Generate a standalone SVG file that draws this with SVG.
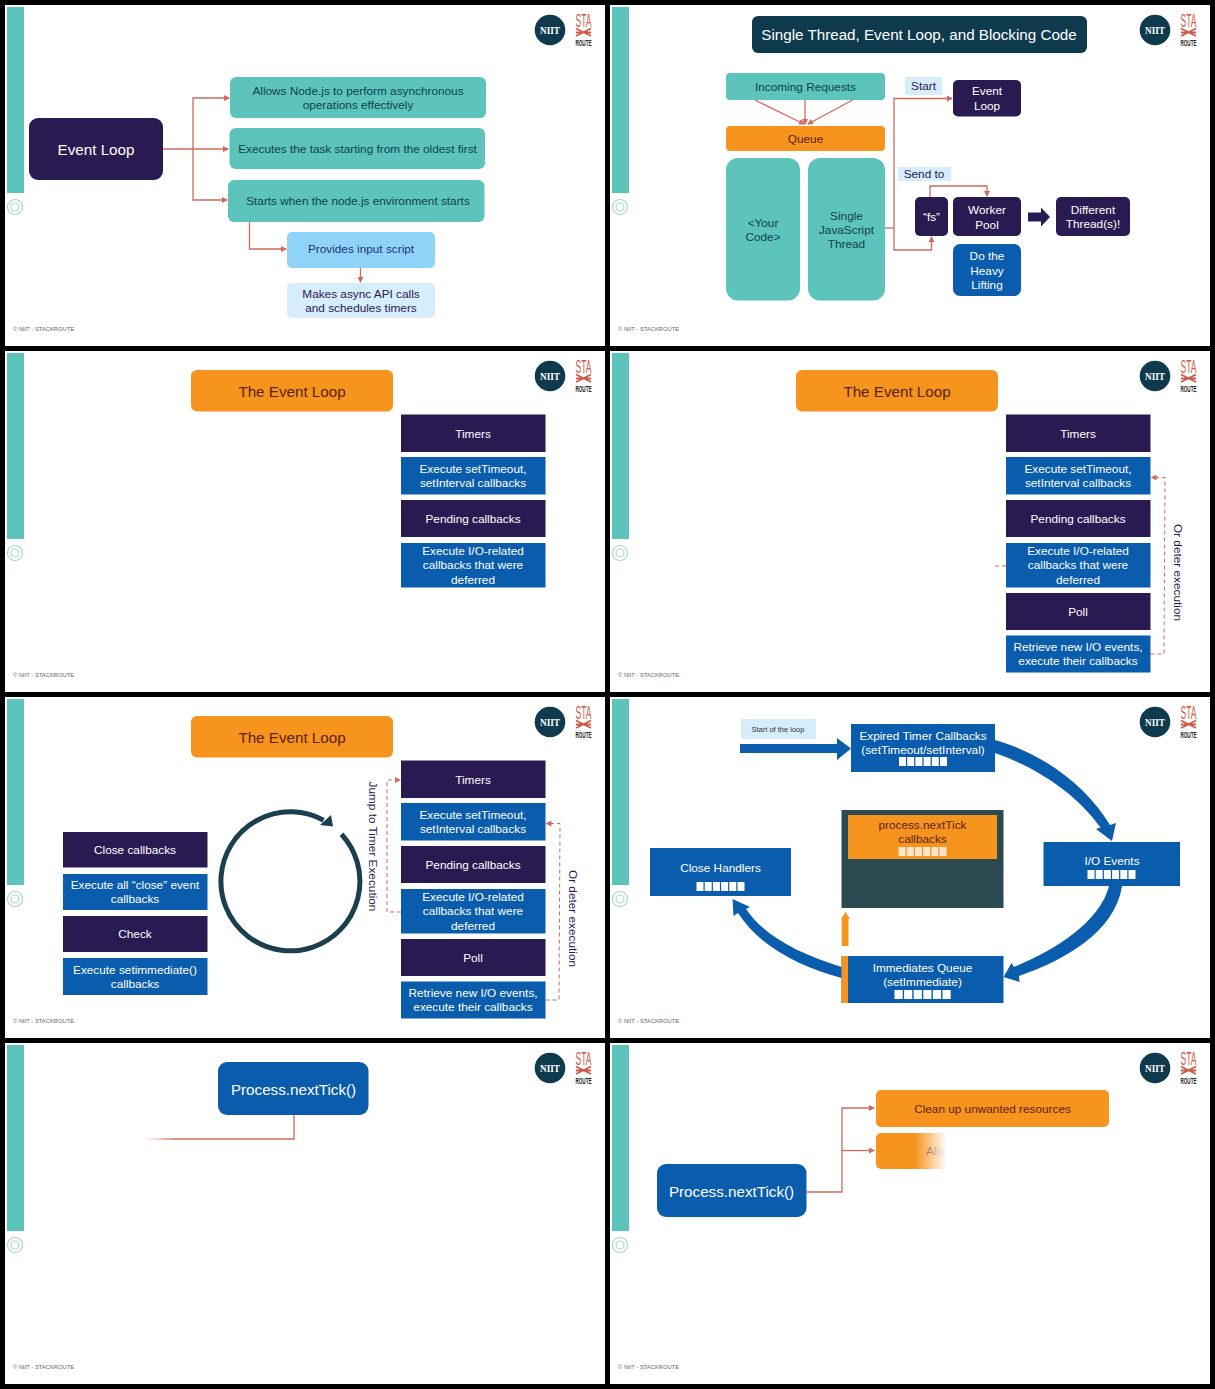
<svg xmlns="http://www.w3.org/2000/svg" width="1215" height="1389" viewBox="0 0 1215 1389">
<style>
text{font-family:"Liberation Sans",Arial,sans-serif;text-anchor:middle;font-size:11.8px}
.w{fill:#fff}.d{fill:#0f3f4c}.n{fill:#2a1a52}.b{fill:#1d3278}.o{fill:#5a2208}
.t16{font-size:15.2px}
.teal{fill:#5cc4bb}.pur{fill:#2a1a52}.blu{fill:#0a5cad}.org{fill:#f7941d}.lb{fill:#d6edfb}.sky{fill:#8fd4f8}.navy{fill:#0f3a4d}
.c{fill:none;stroke:#cf6a5c;stroke-width:1.3}
.a{marker-end:url(#ah)}
.ds{stroke-dasharray:4 3;stroke-width:1}
.foot{font-size:5.8px;text-anchor:start;fill:#666}
.ba{fill:#0a5cad}
</style>
<defs>
<marker id="ah" viewBox="0 0 6 6" refX="5" refY="3" markerWidth="6" markerHeight="6" markerUnits="userSpaceOnUse" orient="auto"><path d="M0 0L6 3L0 6Z" fill="#cf6a5c"/></marker>
<linearGradient id="fadeL" gradientUnits="userSpaceOnUse" x1="145" y1="0" x2="175" y2="0"><stop offset="0" stop-color="#cf6a5c" stop-opacity="0"/><stop offset="1" stop-color="#cf6a5c"/></linearGradient>
<linearGradient id="fadeW" x1="0" y1="0" x2="1" y2="0"><stop offset="0" stop-color="#fff" stop-opacity="0"/><stop offset="1" stop-color="#fff"/></linearGradient>
<g id="q"><rect width="7" height="9"/><rect x="8.2" width="7" height="9"/><rect x="16.4" width="7" height="9"/><rect x="24.6" width="7" height="9"/><rect x="32.8" width="7" height="9"/><rect x="41" width="7" height="9"/></g>
<g id="chrome">
<rect x="5" y="5" width="600" height="341" fill="#fff"/>
<rect x="7" y="7" width="17" height="186" class="teal"/>
<circle cx="15" cy="207" r="7.5" fill="none" stroke="#a9d6d3" stroke-width="1.2"/><circle cx="15" cy="207" r="4" fill="none" stroke="#a9d6d3" stroke-width="1.2"/>
<circle cx="550" cy="30" r="15.3" class="navy"/>
<text x="550" y="33.500" style="font-family:'Liberation Serif',serif;font-weight:bold;font-size:9.5px" class="w" textLength="20" lengthAdjust="spacingAndGlyphs">NIIT</text>
<text x="583.500" y="27" style="font-size:18px" fill="#cf5a4a" textLength="16" lengthAdjust="spacingAndGlyphs">STA</text>
<path d="M576 28.500L591 36M591 28.500L576 36M576 32.500H591" stroke="#cf5a4a" stroke-width="1.800" fill="none"/>
<text x="583.500" y="46" style="font-size:8.500px;font-weight:bold" fill="#222" textLength="16" lengthAdjust="spacingAndGlyphs">ROUTE</text>
<text x="13" y="331" class="foot">© NIIT - STACKROUTE</text>
</g>
</defs>
<rect width="1215" height="1389" fill="#000"/>

<g id="slide1">
<use href="#chrome"/>
<g id="s1-event-loop"><rect x="29" y="118" width="134" height="62" rx="9" class="pur"/><text x="96" y="154.500" class="w t16">Event Loop</text></g>
<g id="s1-async"><rect x="230" y="77" width="256" height="41" rx="6" class="teal"/><text x="358" class="d"><tspan x="358" y="94.500">Allows Node.js to perform asynchronous</tspan><tspan x="358" y="108.500">operations effectively</tspan></text></g>
<g id="s1-oldest"><rect x="229.500" y="128" width="255.500" height="41" rx="6" class="teal"/><text x="357.500" y="153" class="d">Executes the task starting from the oldest first</text></g>
<g id="s1-starts"><rect x="228" y="180" width="256.500" height="42" rx="6" class="teal"/><text x="358" y="205" class="d">Starts when the node.js environment starts</text></g>
<g id="s1-input"><rect x="287" y="232" width="148" height="36" rx="5" class="sky"/><text x="361" y="252.500" class="b">Provides input script</text></g>
<g id="s1-async-api"><rect x="287" y="283" width="148" height="35" rx="5" class="lb"/><text class="n"><tspan x="361" y="298">Makes async API calls</tspan><tspan x="361" y="312">and schedules timers</tspan></text></g>
<g id="s1-connectors">
<path class="c a" d="M163 149H228"/><path class="c a" d="M193 149V98H229"/><path class="c a" d="M193 149V200H227"/>
<path class="c a" d="M249.500 222V249H286"/><path class="c a" d="M360.500 268V282"/>
</g>
</g>

<g id="slide2" transform="translate(605,0)">
<use href="#chrome"/>
<g id="s2-title"><rect x="147" y="16" width="335" height="37" rx="6" class="navy"/><text x="314" y="40" class="w t16">Single Thread, Event Loop, and Blocking Code</text></g>
<g id="s2-incoming"><rect x="121" y="73" width="159" height="27" rx="4" class="teal"/><text x="200.500" y="91" class="d">Incoming Requests</text></g>
<g id="s2-queue"><rect x="121" y="126" width="159" height="25" rx="4" class="org"/><text x="200.500" y="142.500" class="o">Queue</text></g>
<g id="s2-code"><rect x="121" y="158" width="74" height="142.500" rx="12" class="teal"/><text class="d"><tspan x="158" y="227">&lt;Your</tspan><tspan x="158" y="241">Code&gt;</tspan></text></g>
<g id="s2-thread"><rect x="203" y="158" width="77" height="142.500" rx="12" class="teal"/><text class="d"><tspan x="241.500" y="220">Single</tspan><tspan x="241.500" y="234">JavaScript</tspan><tspan x="241.500" y="248">Thread</tspan></text></g>
<g id="s2-start"><rect x="300" y="77" width="37" height="18" class="lb"/><text x="318.500" y="90" class="n">Start</text></g>
<g id="s2-loop"><rect x="348" y="80" width="68" height="36.500" rx="5" class="pur"/><text class="w"><tspan x="382" y="95">Event</tspan><tspan x="382" y="109.500">Loop</tspan></text></g>
<g id="s2-send"><rect x="293" y="167" width="53" height="14" class="lb"/><text x="319" y="178" class="n">Send to</text></g>
<g id="s2-fs"><rect x="310" y="197" width="33" height="39" rx="5" class="pur"/><text x="326.500" y="221" class="w">“fs”</text></g>
<g id="s2-worker"><rect x="348" y="197" width="68" height="39" rx="5" class="pur"/><text class="w"><tspan x="382" y="214">Worker</tspan><tspan x="382" y="228.500">Pool</tspan></text></g>
<g id="s2-diff"><rect x="451" y="197" width="74" height="39" rx="5" class="pur"/><text class="w"><tspan x="488" y="214">Different</tspan><tspan x="488" y="228">Thread(s)!</tspan></text></g>
<g id="s2-heavy"><rect x="348" y="244" width="68" height="52" rx="7" class="blu"/><text class="w"><tspan x="382" y="260">Do the</tspan><tspan x="382" y="275">Heavy</tspan><tspan x="382" y="289">Lifting</tspan></text></g>
<g id="s2-connectors">
<path class="c a" d="M150 100L199 124"/><path class="c a" d="M200 100V124"/><path class="c a" d="M247.500 100L203 124"/>
<path class="c" d="M280 228H289"/><path class="c a" d="M289 228V98.500H347"/><path class="c a" d="M289 228V250H326.500V237"/>
<path class="c a" d="M325 197V186H382V196"/>
<path d="M423 212.500H436V207.500L445 217L436 226.500V221.500H423Z" class="pur"/>
</g>
</g>

<g id="slide3" transform="translate(0,346)">
<use href="#chrome"/>
<g id="s3-title"><rect x="191" y="24" width="202" height="41.500" rx="6" class="org"/><text x="292" y="51" class="o t16">The Event Loop</text></g>
<g id="s3-timers"><rect x="401" y="68.500" width="144.500" height="37.500" class="pur"/><text x="473" y="91.500" class="w">Timers</text></g>
<g id="s3-exec1"><rect x="401" y="111" width="144.500" height="37.500" class="blu"/><text class="w"><tspan x="473" y="127">Execute setTimeout,</tspan><tspan x="473" y="141">setInterval callbacks</tspan></text></g>
<g id="s3-pending"><rect x="401" y="154" width="144.500" height="37" class="pur"/><text x="473" y="177" class="w">Pending callbacks</text></g>
<g id="s3-exec2"><rect x="401" y="197" width="144.500" height="44.500" class="blu"/><text class="w"><tspan x="473" y="209">Execute I/O-related</tspan><tspan x="473" y="223">callbacks that were</tspan><tspan x="473" y="237.500">deferred</tspan></text></g>
</g>

<g id="slide4" transform="translate(605,346)">
<use href="#chrome"/>
<g id="s4-title"><rect x="191" y="24" width="202" height="41.500" rx="6" class="org"/><text x="292" y="51" class="o t16">The Event Loop</text></g>
<g id="s4-timers"><rect x="401" y="68.500" width="144.500" height="37.500" class="pur"/><text x="473" y="91.500" class="w">Timers</text></g>
<g id="s4-exec1"><rect x="401" y="111" width="144.500" height="37.500" class="blu"/><text class="w"><tspan x="473" y="127">Execute setTimeout,</tspan><tspan x="473" y="141">setInterval callbacks</tspan></text></g>
<g id="s4-pending"><rect x="401" y="154" width="144.500" height="37" class="pur"/><text x="473" y="177" class="w">Pending callbacks</text></g>
<g id="s4-exec2"><rect x="401" y="197" width="144.500" height="44.500" class="blu"/><text class="w"><tspan x="473" y="209">Execute I/O-related</tspan><tspan x="473" y="223">callbacks that were</tspan><tspan x="473" y="237.500">deferred</tspan></text></g>
<g id="s4-poll"><rect x="401" y="247" width="144.500" height="37" class="pur"/><text x="473" y="269.500" class="w">Poll</text></g>
<g id="s4-exec3"><rect x="401" y="289.500" width="144.500" height="37" class="blu"/><text class="w"><tspan x="473" y="305">Retrieve new I/O events,</tspan><tspan x="473" y="319">execute their callbacks</tspan></text></g>
<text x="569" y="226.500" transform="rotate(90 569 226.500)" class="n">Or deter execution</text>
<g id="s4-connectors">
<path class="c ds" d="M401 220H387"/>
<path class="c ds a" d="M545.500 308H559L560 131.500H546.500"/>
</g>
</g>

<g id="slide5" transform="translate(0,692)">
<use href="#chrome"/>
<g id="s5-title"><rect x="191" y="24" width="202" height="41.500" rx="6" class="org"/><text x="292" y="51" class="o t16">The Event Loop</text></g>
<g id="s5-timers"><rect x="401" y="68.500" width="144.500" height="37.500" class="pur"/><text x="473" y="91.500" class="w">Timers</text></g>
<g id="s5-exec1"><rect x="401" y="111" width="144.500" height="37.500" class="blu"/><text class="w"><tspan x="473" y="127">Execute setTimeout,</tspan><tspan x="473" y="141">setInterval callbacks</tspan></text></g>
<g id="s5-pending"><rect x="401" y="154" width="144.500" height="37" class="pur"/><text x="473" y="177" class="w">Pending callbacks</text></g>
<g id="s5-exec2"><rect x="401" y="197" width="144.500" height="44.500" class="blu"/><text class="w"><tspan x="473" y="209">Execute I/O-related</tspan><tspan x="473" y="223">callbacks that were</tspan><tspan x="473" y="237.500">deferred</tspan></text></g>
<g id="s5-poll"><rect x="401" y="247" width="144.500" height="37" class="pur"/><text x="473" y="269.500" class="w">Poll</text></g>
<g id="s5-exec3"><rect x="401" y="289.500" width="144.500" height="37" class="blu"/><text class="w"><tspan x="473" y="305">Retrieve new I/O events,</tspan><tspan x="473" y="319">execute their callbacks</tspan></text></g>
<g id="s5-close"><rect x="63" y="140" width="144.500" height="35.500" class="pur"/><text x="135" y="162" class="w">Close callbacks</text></g>
<g id="s5-exec4"><rect x="63" y="182" width="144.500" height="36" class="blu"/><text class="w"><tspan x="135" y="197">Execute all “close” event</tspan><tspan x="135" y="211">callbacks</tspan></text></g>
<g id="s5-check"><rect x="63" y="224" width="144.500" height="36" class="pur"/><text x="135" y="246" class="w">Check</text></g>
<g id="s5-exec5"><rect x="63" y="266" width="144.500" height="37" class="blu"/><text class="w"><tspan x="135" y="282">Execute setimmediate()</tspan><tspan x="135" y="296">callbacks</tspan></text></g>
<g id="s5-cycle"><path d="M340 141A69.500 69.500 0 1 1 322 127" transform="translate(1.500,1.200)" fill="none" stroke="#1c3f50" stroke-width="5"/><path d="M333 134.500L320 133L331 123Z" fill="#1c3f50"/></g>
<text x="369" y="154.500" transform="rotate(90 369 154.500)" class="n">Jump to Timer Execution</text>
<text x="569" y="226.500" transform="rotate(90 569 226.500)" class="n">Or deter execution</text>
<g id="s5-connectors">
<path class="c ds a" d="M401 220H387V88H400"/>
<path class="c ds a" d="M545.500 308H559L560 131.500H546.500"/>
</g>
</g>

<g id="slide6" transform="translate(605,692)">
<use href="#chrome"/>
<g id="s6-start"><rect x="136" y="27" width="75" height="20" class="lb"/><text x="173" y="40" style="font-size:7.500px" fill="#333">Start of the loop</text></g>
<g id="s6-expired"><rect x="246" y="32" width="144" height="48" class="blu"/><text class="w"><tspan x="318" y="47.500">Expired Timer Callbacks</tspan><tspan x="318" y="62">(setTimeout/setInterval)</tspan></text><use href="#q" x="294" y="65" fill="#fff"/></g>
<g id="s6-io"><rect x="438.500" y="150" width="136.500" height="44" class="blu"/><text x="507" y="173" class="w">I/O Events</text><use href="#q" x="482.500" y="178" fill="#fff"/></g>
<g id="s6-close"><rect x="45" y="156" width="141" height="48" class="blu"/><text x="115.500" y="180" class="w">Close Handlers</text><use href="#q" x="91.500" y="190" fill="#fff"/></g>
<g id="s6-tick"><rect x="236.500" y="118" width="162" height="98" fill="#2b4a52"/><rect x="243" y="123" width="149" height="44" class="org"/><text class="o"><tspan x="317.500" y="137">process.nextTick</tspan><tspan x="317.500" y="151">callbacks</tspan></text><use href="#q" x="293.500" y="155" fill="#fde6cc"/></g>
<g id="s6-imm"><rect x="236.500" y="264" width="162" height="47" class="blu"/><rect x="236.500" y="264" width="6.500" height="47" class="org"/><text class="w"><tspan x="317.500" y="280">Immediates Queue</tspan><tspan x="317.500" y="294">(setImmediate)</tspan></text><g transform="translate(289.500,298) scale(1.170,1)"><use href="#q" fill="#fff"/></g></g>
<g id="s6-connectors">
<path class="ba" d="M135 52H232V46L246 56.500L232 68V61H135Z"/>
<path class="ba" d="M390 48C440 62 482 95 505 133L511 131L507 149L491 137L495.500 135.500C470 100 430 75 390 61Z"/>
<path class="ba" d="M517 194C510 240 460 268 414 284L414.500 290L398.500 285L406.500 271L409 275C450 258 495 230 504 194Z"/>
<path class="ba" d="M236.500 275C195 262 160 245 141 217L145 215L127.600 207L128.500 224L133 221C155 255 195 275 236.500 286Z"/>
<path class="org" d="M236 227L240.500 220L245 227H243.500V254H236.700V227Z"/>
</g>
</g>

<g id="slide7" transform="translate(0,1038)">
<use href="#chrome"/>
<g id="s7-tick"><rect x="218" y="24" width="150.500" height="53" rx="9" class="blu"/><text x="293.500" y="56.500" class="w t16">Process.nextTick()</text></g>
<g id="s7-connectors"><path d="M294 77V101H145" fill="none" stroke="url(#fadeL)" stroke-width="1.300"/></g>
</g>

<g id="slide8" transform="translate(605,1038)">
<use href="#chrome"/>
<g id="s8-tick"><rect x="52" y="126" width="149.500" height="53" rx="9" class="blu"/><text x="126.500" y="158.500" class="w t16">Process.nextTick()</text></g>
<g id="s8-clean"><rect x="271" y="52" width="233" height="37" rx="5" class="org"/><text x="387.500" y="75" class="o">Clean up unwanted resources</text></g>
<g id="s8-alloc"><rect x="271" y="95" width="80" height="36" rx="5" class="org"/><text x="321" y="117" style="text-anchor:start" class="o">Allo</text><rect x="310" y="93" width="32" height="40" fill="url(#fadeW)"/><rect x="342" y="93" width="12" height="40" fill="#fff"/></g>
<g id="s8-connectors">
<path class="c a" d="M201.500 154H237V70H269"/><path class="c a" d="M237 112.500H269"/>
</g>
</g>
</svg>
